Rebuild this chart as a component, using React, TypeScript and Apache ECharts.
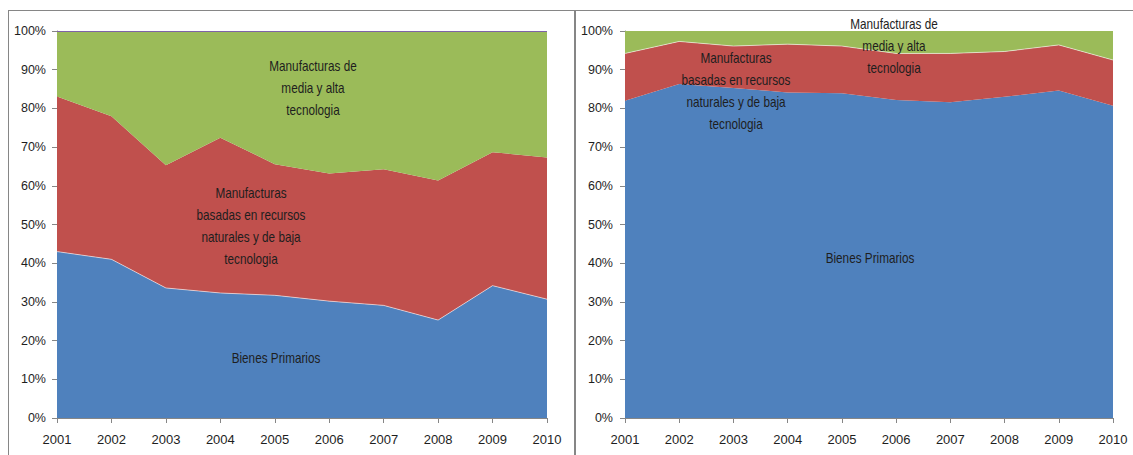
import React, { useEffect, useRef } from "react";
import * as echarts from "echarts";

const years = ["2001", "2002", "2003", "2004", "2005", "2006", "2007", "2008", "2009", "2010"];
const yTicks = [0, 10, 20, 30, 40, 50, 60, 70, 80, 90, 100];

// Left panel (% shares)
const leftPrimarios = [43.0, 41.0, 33.6, 32.3, 31.7, 30.2, 29.1, 25.3, 34.2, 30.7];
const leftBaja = [40.1, 37.0, 31.7, 40.1, 33.9, 33.0, 35.2, 36.1, 34.5, 36.6];
const leftMedia = [16.9, 22.0, 34.7, 27.6, 34.4, 36.8, 35.7, 38.6, 31.3, 32.7];

// Right panel (% shares)
const rightPrimarios = [82.0, 86.3, 85.3, 84.1, 83.9, 82.2, 81.6, 83.0, 84.6, 80.7];
const rightBaja = [12.2, 11.0, 10.8, 12.5, 12.2, 12.0, 12.6, 11.7, 11.8, 11.8];
const rightMedia = [5.8, 2.7, 3.9, 3.4, 3.9, 5.8, 5.8, 5.3, 3.6, 7.5];

const seriesNames = [
  "Bienes Primarios",
  "Manufacturas basadas en recursos naturales y de baja tecnologia",
  "Manufacturas de media y alta tecnologia",
];
const colors = ["#4F81BD", "#C0504D", "#9BBB59"];

const FONT = "'Liberation Sans', Arial, sans-serif";
const TEXT = "#1e1e1e";
const AXIS = "#868686";

export default function App() {
  const ref = useRef<HTMLDivElement>(null);

  useEffect(() => {
    if (!ref.current) return;
    const chart = echarts.init(ref.current, undefined, { renderer: "svg" });

    const xAxisBase = (gridIndex: number) => ({
      type: "category" as const,
      gridIndex,
      data: years,
      boundaryGap: false,
      axisLine: { show: true, lineStyle: { color: AXIS, width: 1 } },
      axisTick: { show: true, length: 5, alignWithLabel: true, lineStyle: { color: AXIS } },
      axisLabel: { color: TEXT, fontSize: 13, fontFamily: FONT, margin: 15, showMaxLabel: true, showMinLabel: true, interval: 0 },
      splitLine: { show: false },
    });
    const yAxisBase = (gridIndex: number, margin: number) => ({
      type: "value" as const,
      gridIndex,
      min: yTicks[0],
      max: yTicks[yTicks.length - 1],
      interval: 10,
      axisLine: { show: true, lineStyle: { color: AXIS, width: 1 } },
      axisTick: { show: true, length: 5, lineStyle: { color: AXIS } },
      axisLabel: { color: TEXT, fontSize: 12.5, fontFamily: FONT, margin, formatter: "{value}%" },
      splitLine: { show: false },
    });

    const area = (
      name: string,
      data: number[],
      idx: number,
      stack: string,
      axisIndex: number,
      line: boolean,
      extra: any = {}
    ) => ({
      type: "line" as const,
      name,
      data,
      stack,
      xAxisIndex: axisIndex,
      yAxisIndex: axisIndex,
      symbol: "none",
      smooth: false,
      lineStyle: { color: "#ffffff", width: line ? 1 : 0, opacity: line ? 0.55 : 0 },
      areaStyle: { color: colors[idx], opacity: 1 },
      itemStyle: { color: colors[idx] },
      silent: true,
      ...extra,
    });

    const textEl = (x: number, y: number, text: string) => ({
      type: "text" as const,
      x,
      y,
      scaleX: 0.84,
      silent: true,
      z: 100,
      style: {
        text,
        fill: TEXT,
        fontSize: 14,
        fontFamily: FONT,
        lineHeight: 22,
        align: "center",
        verticalAlign: "middle",
        textAlign: "center",
        textVerticalAlign: "middle",
      },
    });

    const frame = AXIS;

    chart.setOption({
      animation: false,
      backgroundColor: "#ffffff",
      grid: [
        { left: 57, right: 1133 - 547, top: 31, bottom: 455 - 418 },
        { left: 625, right: 1133 - 1113, top: 31, bottom: 455 - 418 },
      ],
      xAxis: [xAxisBase(0), xAxisBase(1)],
      yAxis: [yAxisBase(0, 11), yAxisBase(1, 12)],
      series: [
        area(seriesNames[0], leftPrimarios, 0, "L", 0, true),
        area(seriesNames[1], leftBaja, 1, "L", 0, false),
        area(seriesNames[2], leftMedia, 2, "L", 0, false, {
          markLine: {
            silent: true,
            symbol: "none",
            label: { show: false },
            lineStyle: { color: "#7F62A8", width: 1, type: "solid" },
            data: [{ yAxis: 100 }],
          },
        }),
        area(seriesNames[0], rightPrimarios, 0, "R", 1, false),
        area(seriesNames[1], rightBaja, 1, "R", 1, true),
        area(seriesNames[2], rightMedia, 2, "R", 1, false),
      ],
      graphic: [
        { type: "line", silent: true, shape: { x1: 8, y1: 10.5, x2: 1133, y2: 10.5 }, style: { stroke: frame, lineWidth: 1 } },
        { type: "line", silent: true, shape: { x1: 8.5, y1: 10, x2: 8.5, y2: 455 }, style: { stroke: frame, lineWidth: 1 } },
        { type: "line", silent: true, shape: { x1: 575, y1: 10, x2: 575, y2: 455 }, style: { stroke: frame, lineWidth: 2 } },
        textEl(313, 88, "Manufacturas de\nmedia y alta\ntecnologia"),
        textEl(251, 226, "Manufacturas\nbasadas en recursos\nnaturales y de baja\ntecnologia"),
        textEl(276, 358, "Bienes Primarios"),
        textEl(894, 46, "Manufacturas de\nmedia y alta\ntecnologia"),
        textEl(736, 91, "Manufacturas\nbasadas en recursos\nnaturales y de baja\ntecnologia"),
        textEl(870, 258, "Bienes Primarios"),
      ],
    });

    return () => chart.dispose();
  }, []);

  return (
    <div
      ref={ref}
      style={{ position: "absolute", left: 0, top: 0, width: 1133, height: 455, background: "#fff" }}
    />
  );
}
